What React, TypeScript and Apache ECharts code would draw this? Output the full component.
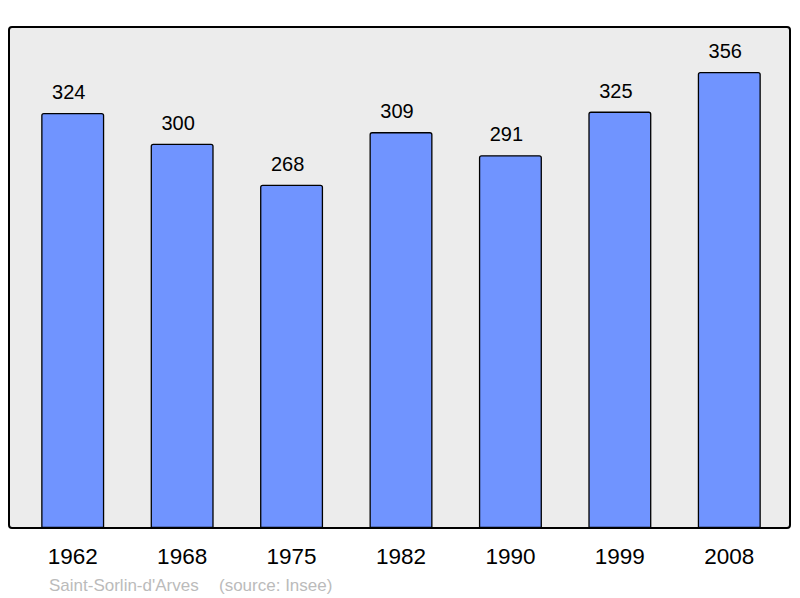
import React, { useEffect, useRef } from "react";
import * as echarts from "echarts";

const years = ["1962", "1968", "1975", "1982", "1990", "1999", "2008"];
const population = [324, 300, 268, 309, 291, 325, 356];
const townName = "Saint-Sorlin-d'Arves";
const sourceText = "(source: Insee)";

export default function App() {
  const ref = useRef<HTMLDivElement>(null);
  useEffect(() => {
    if (!ref.current) return;
    const chart = echarts.init(ref.current, null, { renderer: "svg" });
    chart.setOption({
      animation: false,
      grid: { left: 18, right: 16, top: 15.5, bottom: 70, containLabel: false },
      graphic: {
        elements: [
          {
            type: "rect",
            z: -10,
            shape: { x: 9, y: 27, width: 781, height: 501, r: 3 },
            style: { fill: "#ececec", stroke: "#000", lineWidth: 2 },
          },
          {
            type: "text",
            x: 49,
            y: 585,
            style: {
              text: townName,
              font: "17px 'Liberation Sans', Arial, sans-serif",
              fill: "#bbbbbb",
              verticalAlign: "middle",
            },
          },
          {
            type: "text",
            x: 219,
            y: 585,
            style: {
              text: sourceText,
              font: "17px 'Liberation Sans', Arial, sans-serif",
              fill: "#bbbbbb",
              verticalAlign: "middle",
            },
          },
        ],
      },
      xAxis: {
        type: "category",
        data: years,
        axisLine: { show: false },
        axisTick: { show: false },
        axisLabel: {
          color: "#000",
          fontSize: 22.5,
          fontFamily: "'Liberation Sans', Arial, sans-serif",
          margin: 17,
        },
      },
      yAxis: {
        type: "value",
        min: 0,
        max: 400,
        show: false,
        splitLine: { show: false },
      },
      series: [
        {
          type: "bar",
          data: population,
          barWidth: 63,
          itemStyle: {
            color: "#7094ff",
            borderColor: "#000",
            borderWidth: 1.3,
            borderRadius: [2, 2, 0, 0],
          },
          label: {
            show: true,
            position: "top",
            distance: 11,
            offset: [-4, 0],
            color: "#000",
            fontSize: 20,
            fontFamily: "'Liberation Sans', Arial, sans-serif",
          },
        },
      ],
    });
    return () => chart.dispose();
  }, []);
  return <div ref={ref} style={{ width: 800, height: 598, position: "absolute", left: 0, top: 0 }} />;
}
